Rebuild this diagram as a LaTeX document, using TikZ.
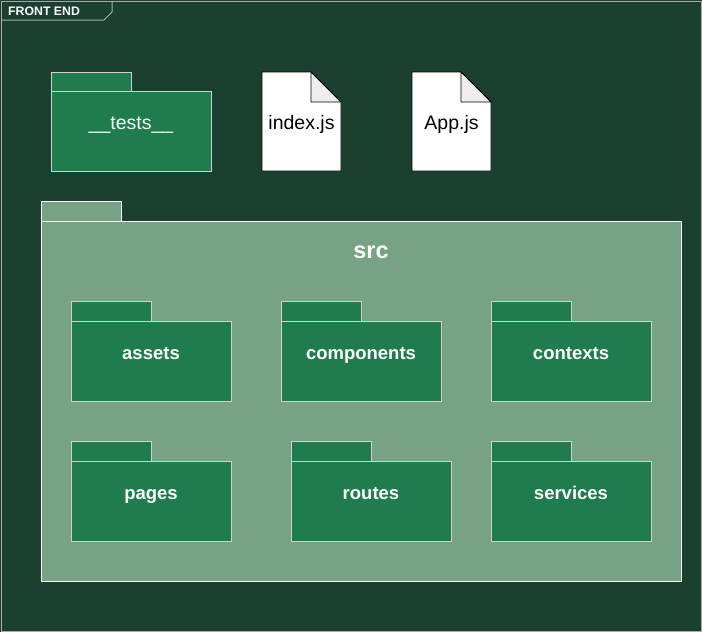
\documentclass[tikz,border=0pt]{standalone}
\usepackage{fontspec}
\setmainfont{Liberation Sans}
\usetikzlibrary{positioning}

\definecolor{bgdark}{HTML}{1B4030}
\definecolor{pkgfill}{HTML}{1F7D4D}
\definecolor{srcfill}{HTML}{77A283}
\definecolor{pkgline}{HTML}{D0D0D0}
\definecolor{frameline}{HTML}{AAAAAA}
\definecolor{foldfill}{HTML}{EEEEEE}

\tikzset{
	pkg/.style={draw=pkgline, fill=pkgfill, line width=0.9pt, minimum width=160pt, minimum height=80pt, inner sep=0pt, outer sep=0pt},
	pkgtab/.style={draw=pkgline, fill=pkgfill, line width=0.9pt},
	pkglabel/.style={text=white, font=\fontsize{18.5}{20}\selectfont\bfseries, inner sep=0pt, anchor=base},
	jsfile/.style={minimum width=79pt, minimum height=99pt, inner sep=0pt, outer sep=0pt},
	jslabel/.style={font=\fontsize{19.5}{22}\selectfont, inner sep=0pt, anchor=base},
}

\begin{document}
\begin{tikzpicture}[x=1pt, y=-1pt]
		\useasboundingbox (0, 0) rectangle (702, 632);
		\fill[bgdark] (0, 0) rectangle (702, 632);
		\draw[frameline, line width=1pt] (1, 1) rectangle (701, 631);
		
		% frame title
		\draw[frameline, line width=1pt] (1, 20) -- (104, 20) -- (112, 12) -- (112, 1);
		\node[text=white, font=\fontsize{12.3}{14}\selectfont\bfseries, anchor=base west, inner sep=0pt] (frame) at (8, 15.7) {FRONT END};
		
		% tests package
		\node[pkg] (tests) at (131, 131) {};
		\draw[pkgtab] (tests.north west) rectangle ++(80, -19);
		\node[pkglabel, font=\fontsize{19.5}{22}\selectfont] (tests-t) at ([yshift=-38]tests.north) {\_\_tests\_\_};
		
		% files
		\node[jsfile] (index) at (301.5, 121.5) {};
		\node[jsfile] (app) at (451.5, 121.5) {};
		\foreach \f in {index, app} {
			\draw[black, fill=white, line width=0.9pt] (\f.north west) -- ([xshift=-30]\f.north east) -- ([yshift=-30]\f.north east) -- (\f.south east) -- (\f.south west) -- cycle;
			\draw[black, fill=foldfill, line width=0.9pt] ([xshift=-30]\f.north east) -- ([xshift=-30, yshift=-30]\f.north east) -- ([yshift=-30]\f.north east) -- cycle;
		}
		\node[jslabel] (index-t) at (301.5, 129) {index.js};
		\node[jslabel] (app-t) at (451.5, 129) {App.js};
		
		% src package
		\node[draw=white, fill=srcfill, line width=1pt, minimum width=640pt, minimum height=360pt, inner sep=0pt, outer sep=0pt] (src) at (361, 401) {};
		\draw[draw=white, fill=srcfill, line width=1pt] (src.north west) rectangle ++(80, -20);
		\node[pkglabel, font=\fontsize{23.5}{26}\selectfont\bfseries] (src-t) at (371, 258) {src};
		
		\node[pkg] (assets) at (151, 361) {};
		\node[pkg] (components) at (361, 361) {};
		\node[pkg] (contexts) at (571, 361) {};
		\node[pkg] (pages) at (151, 501) {};
		\node[pkg] (routes) at (371, 501) {};
		\node[pkg] (services) at (571, 501) {};
		
		\foreach \p in {assets, components, contexts, pages, routes, services} {
			\draw[pkgtab] (\p.north west) rectangle ++(80, -20);
			\node[pkglabel] (\p-t) at ([yshift=-38]\p.north) {\p};
		}
	\end{tikzpicture}
\end{document}
